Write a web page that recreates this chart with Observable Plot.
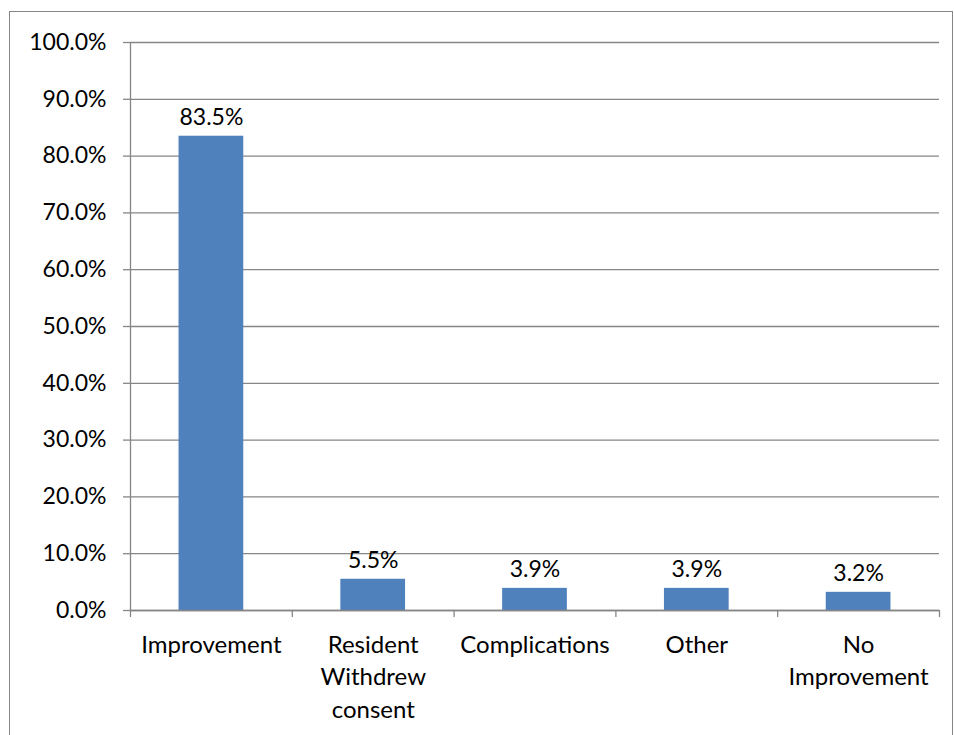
<!DOCTYPE html>
<html><head><meta charset="utf-8">
<script src="https://cdn.jsdelivr.net/npm/d3@7"></script>
<script src="https://cdn.jsdelivr.net/npm/@observablehq/plot@0.6"></script>
<style>
body{margin:0;background:#fff;}
#wrap{position:relative;width:954px;height:735px;overflow:hidden;}
#frame{position:absolute;left:9px;top:11px;width:942px;height:760px;border:1.5px solid #868686;}
#chart{position:absolute;left:0;top:0;}
</style></head><body>
<div id="wrap"><div id="frame"></div><div id="chart"></div></div>
<script>
const categories = ["Improvement", "Resident\nWithdrew\nconsent", "Complications", "Other", "No\nImprovement"];
const values = [83.5, 5.5, 3.9, 3.9, 3.2];
const yTicks = [0, 10, 20, 30, 40, 50, 60, 70, 80, 90, 100];
const xBoundaries = [0, 1, 2, 3, 4, 5];

const data = categories.map((c, i) => ({c, i, v: values[i]}));
const fontFamily = "Lato, 'Open Sans', sans-serif";

const chart = Plot.plot({
  width: 954,
  height: 735,
  marginLeft: 130,
  marginRight: 15,
  marginTop: 42,
  marginBottom: 125,
  x: {type: "linear", domain: [0, 5], label: null},
  y: {domain: [0, 100], label: null},
  style: {fontFamily, fontSize: "24px", color: "#000", background: "transparent", overflow: "visible"},
  marks: [
    Plot.gridY(yTicks, {stroke: "#868686", strokeOpacity: 1, strokeWidth: 1.3}),
    Plot.axisY(yTicks, {tickSize: 7, tickPadding: 17, tickFormat: d => d.toFixed(1) + "%", stroke: "#868686", strokeWidth: 1.3, fontSize: 23, fill: "#000", label: null}),
    Plot.ruleX([0], {stroke: "#868686", strokeWidth: 1.3}),
    Plot.rectY(data, {x1: d => d.i + 0.3, x2: d => d.i + 0.7, y: "v", fill: "#4F81BD"}),
    Plot.ruleY([0], {stroke: "#868686", strokeWidth: 1.3}),
    Plot.axisX(xBoundaries, {tickSize: 7, tickFormat: () => "", stroke: "#868686", strokeWidth: 1.3, label: null}),
    Plot.text(data, {x: d => d.i + 0.5, y: "v", text: d => d.v.toFixed(1) + "%", lineAnchor: "bottom", dy: -11, fontSize: 23, fill: "#000"}),
    Plot.text(data, {x: d => d.i + 0.5, y: 0, text: "c", lineAnchor: "top", dy: 19, lineHeight: 1.36, fontSize: 24, fill: "#000"})
  ]
});
document.getElementById("chart").appendChild(chart);
</script>
</body></html>
